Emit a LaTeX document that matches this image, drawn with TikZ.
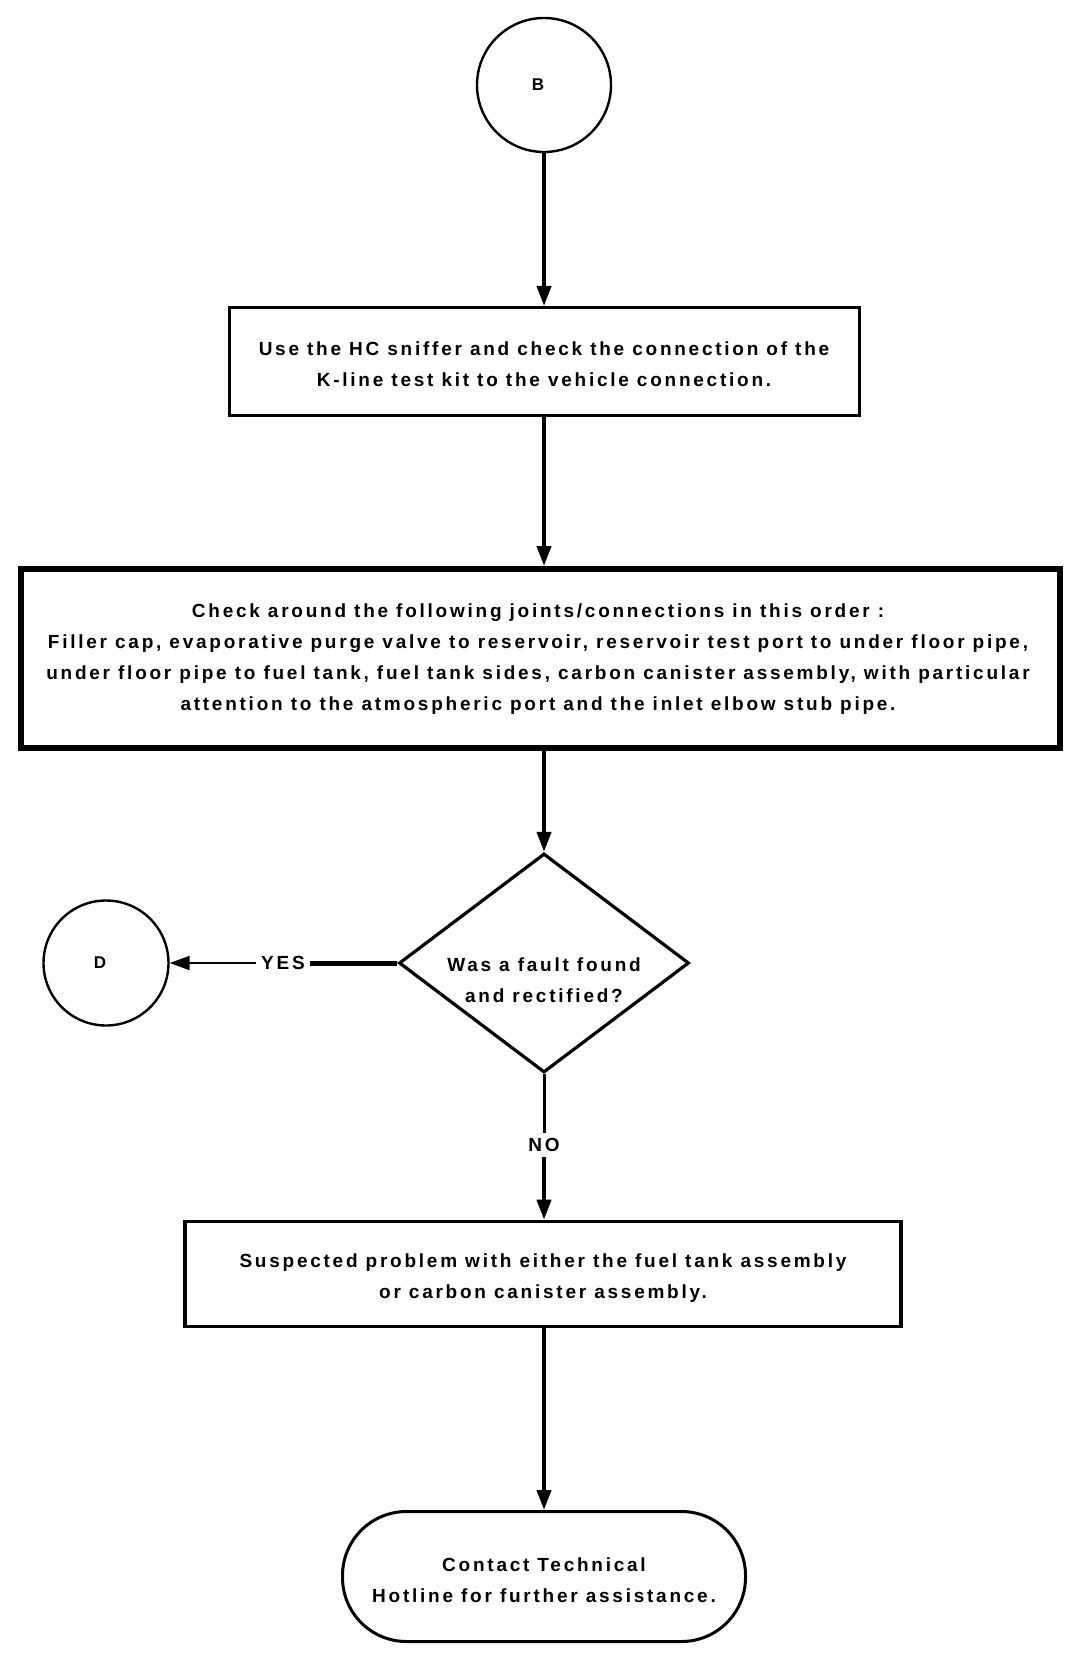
\documentclass[tikz,border=0pt]{standalone}
\usepackage{fontspec}
\setmainfont{Liberation Sans}
\newfontfamily\lsf[LetterSpace=14.5]{Liberation Sans Bold}
\usetikzlibrary{arrows.meta,shapes.geometric}
\begin{document}
\begin{tikzpicture}[x=0.5pt,y=-0.5pt,
  lbl/.style={font=\lsf\fontsize{9.5pt}{15.5pt}\selectfont, align=center, inner sep=0pt},
  conncircle/.style={circle, draw, line width=1.2pt, inner sep=0pt, font=\lsf\fontsize{8.5pt}{15.5pt}\selectfont},
  procbox/.style={rectangle, draw, line width=1.5pt, inner sep=0pt},
  decbox/.style={diamond, draw, line width=1.6pt, inner sep=0pt},
  termbox/.style={rectangle, rounded corners=32pt, draw, line width=1.5pt, inner sep=0pt},
  conn/.style={line width=2pt, -{Triangle[length=10pt,width=7pt]}},
  thinconn/.style={line width=1.1pt, -{Triangle[length=10pt,width=7pt]}},
  plain/.style={line width=2.5pt},
  thinplain/.style={line width=1.5pt},
  branch/.style={font=\lsf\fontsize{9.5pt}{15.5pt}\selectfont, inner sep=2.5pt}
]
\useasboundingbox (0,0) rectangle (1088,1658);

\node[conncircle, minimum size=67pt] (B) at (544,85) {\hspace*{-6pt}B};
\node[procbox, minimum width=315pt, minimum height=54pt] (box1) at (544,361.5) {};
\node[lbl] at (544,364) {Use the HC sniffer and check the connection of the\\K-line test kit to the vehicle connection.};

\node[procbox, line width=3pt, minimum width=519.5pt, minimum height=89.5pt] (box2) at (540,658.5) {};
\node[lbl] at (538,659) {Check around the following joints/connections in this order :\\
Filler cap, evaporative purge valve to reservoir, reservoir test port to under floor pipe,\\
under floor pipe to fuel tank, fuel tank sides, carbon canister assembly, with particular\\
attention to the atmospheric port and the inlet elbow stub pipe.};

\node[decbox, minimum width=145pt, minimum height=109.5pt] (dia) at (544,963) {};
\node[lbl] at (544,980) {Was a fault found\\and rectified?};

\node[conncircle, minimum size=62.5pt] (D) at (106,963) {\hspace*{-6pt}D};
\node[branch] (yes) at (283,963) {YES};
\node[branch] (no) at (544,1145) {NO};

\node[procbox, line width=1.8pt, minimum width=358pt, minimum height=52.5pt] (box3) at (543,1274) {};
\node[lbl] at (543,1278) {Suspected problem with either the fuel tank assembly\\or carbon canister assembly.};

\node[termbox, minimum width=201.5pt, minimum height=65pt] (term) at (544,1576.5) {};
\node[lbl] at (544,1580) {Contact Technical\\Hotline for further assistance.};

\draw[conn] (B) -- (box1);
\draw[conn] (box1) -- (box1.south |- box2.north);
\draw[conn] (box2.south -| dia.north) -- (dia.north);
\draw[plain] (dia.west) -- (dia.west -| yes.east);
\draw[thinconn] (yes.west) -- (yes.west -| D.east);
\draw[thinplain] (dia.south) -- (no.north -| dia.south);
\draw[conn] (no.south -| dia.south) -- (box3.north -| dia.south);
\draw[conn] (box3.south -| term.north) -- (term.north);
\end{tikzpicture}
\end{document}
